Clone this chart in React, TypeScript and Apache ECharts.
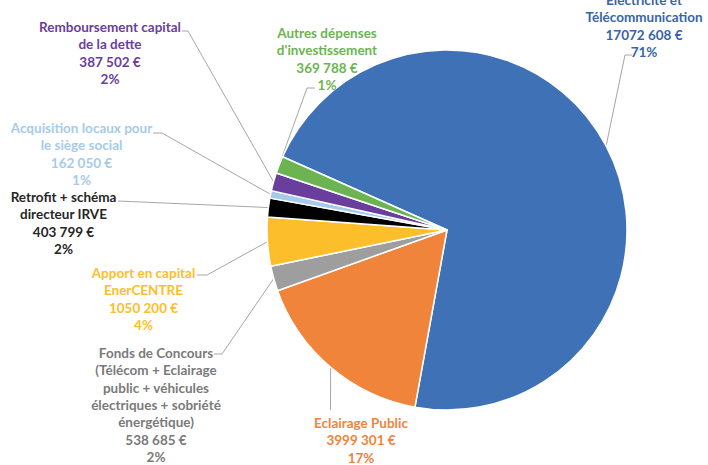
import React, { useEffect, useRef } from "react";
import * as echarts from "echarts";

const categories = [
  "Electricité et\nTélécommunication",
  "Eclairage Public",
  "Fonds de Concours\n(Télécom + Eclairage\npublic + véhicules\nélectriques + sobriété\nénergétique)",
  "Apport en capital\nEnerCENTRE",
  "Retrofit + schéma\ndirecteur IRVE",
  "Acquisition locaux pour\nle siège social",
  "Remboursement capital\nde la dette",
  "Autres dépenses\nd'investissement",
];
const amounts = [17072608, 3999301, 538685, 1050200, 403799, 162050, 387502, 369788];
const percentLabels = ["71%", "17%", "2%", "4%", "2%", "1%", "2%", "1%"];

const sliceColors = ["#3F71B7", "#F0843B", "#9E9E9E", "#FDBE2B", "#000000", "#A6CBEA", "#6A3E9C", "#6CB452"];
const labelColors = ["#3864A8", "#F0843B", "#7A7A7A", "#FDBE2B", "#262626", "#A6CBEA", "#6A3E9C", "#6CB452"];

// label block positions: [center x, top y]
const labelPos: number[][] = [
  [644, -8.5],
  [361, 414.5],
  [156, 344.5],
  [143.5, 264.5],
  [63.5, 188.5],
  [81.5, 119.5],
  [110, 18.5],
  [327, 24.5],
];
// leader line bends after the slice edge point
const lineBends: number[][][] = [
  [[625, 55], [632, 55]],
  [[330.5, 410]],
  [[222, 354], [214, 354]],
  [[207, 275], [197, 275]],
  [[118, 201]],
  [[162, 133], [153, 133]],
  [[188, 31], [182, 31]],
  [[307, 88], [315, 88]],
];

function formatEuro(v: number): string {
  const thousands = Math.floor(v / 1000);
  const rest = String(v % 1000).padStart(3, "0");
  return `${thousands} ${rest} €`;
}

export default function App() {
  const ref = useRef<HTMLDivElement>(null);
  useEffect(() => {
    if (!ref.current) return;
    const chart = echarts.init(ref.current, undefined, { renderer: "svg" });
    const data = categories.map((name, i) => ({
      name,
      value: amounts[i],
      itemStyle: { color: sliceColors[i] },
      label: { color: labelColors[i] },
    }));
    chart.setOption({
      animation: false,
      backgroundColor: "#ffffff",
      series: [
        {
          type: "pie",
          center: [447, 230],
          radius: 180,
          startAngle: 156,
          clockwise: true,
          avoidLabelOverlap: false,
          minShowLabelAngle: 0,
          itemStyle: { borderColor: "#ffffff", borderWidth: 1.5 },
          label: {
            show: true,
            position: "outside",
            fontFamily: "Lato",
            fontWeight: "bold",
            fontSize: 13.5,
            lineHeight: 17.3,
            width: 220,
            overflow: "none",
            align: "center",
            formatter: (p: any) =>
              `${p.name}\n${formatEuro(amounts[p.dataIndex])}\n${percentLabels[p.dataIndex]}`,
          },
          labelLine: {
            show: true,
            length: 10,
            length2: 10,
            lineStyle: { color: "#A6A6A6", width: 1 },
          },
          emphasis: { disabled: true },
          labelLayout: (params: any) => {
            const i = params.dataIndex;
            const pts = params.labelLinePoints;
            const start = pts && pts[0] ? pts[0] : [447, 230];
            return {
              x: labelPos[i][0],
              y: labelPos[i][1],
              align: "center",
              verticalAlign: "top",
              labelLinePoints: [start, ...lineBends[i]],
            };
          },
          data,
        },
      ],
    });
    return () => chart.dispose();
  }, []);
  return (
    <div
      ref={ref}
      style={{ position: "absolute", left: 0, top: 0, width: 708, height: 465 }}
    />
  );
}
